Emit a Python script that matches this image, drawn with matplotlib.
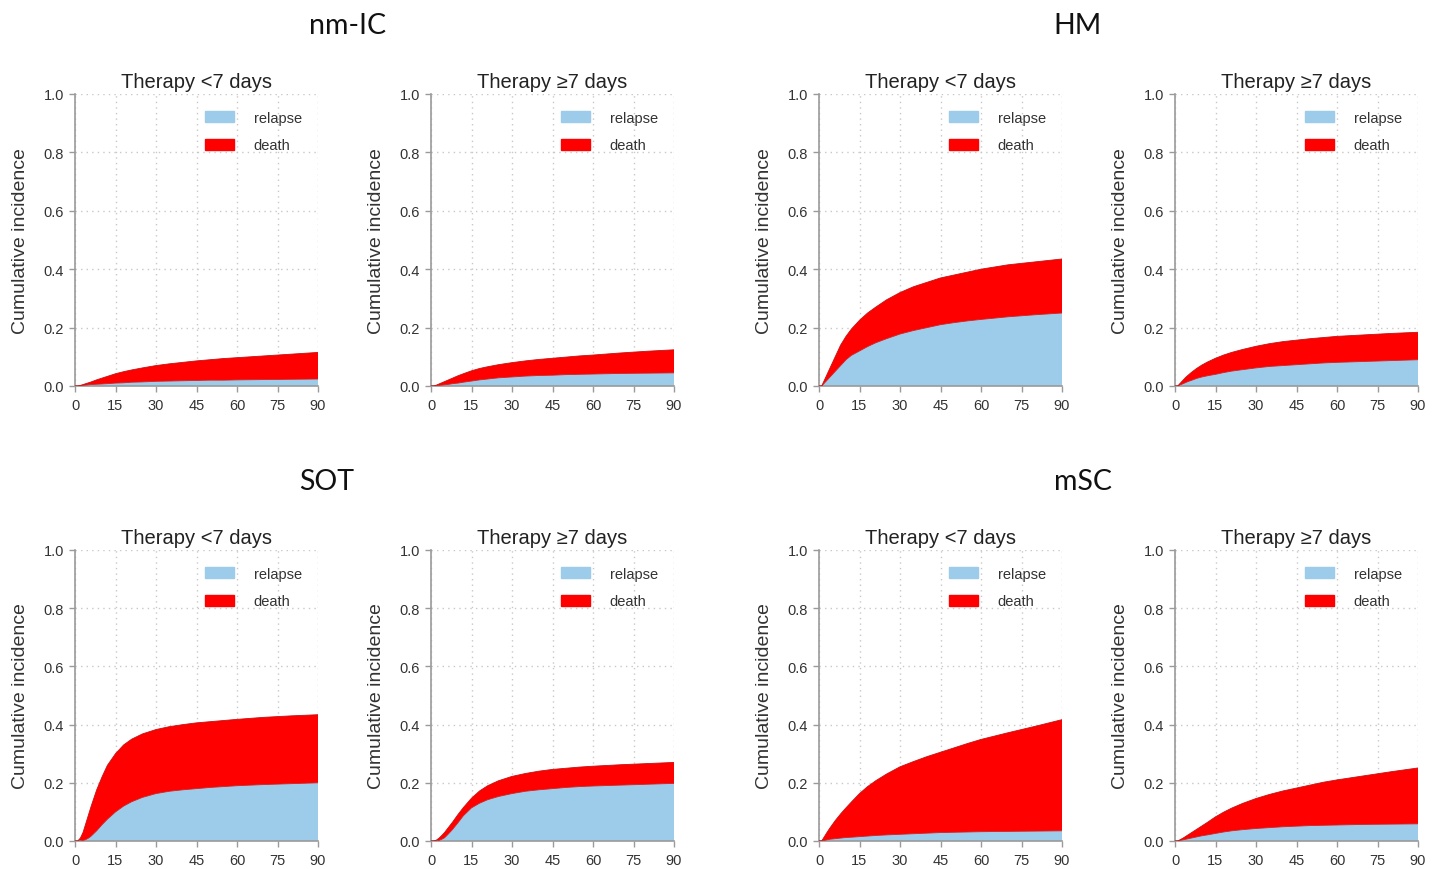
from typing import List

import matplotlib.pyplot as plt
from matplotlib.patches import Patch

plt.rcParams["font.family"] = ["Liberation Sans", "DejaVu Sans"]

# follow-up days (shared by every panel)
days: List[float] = [0, 1, 2, 3, 4, 5, 6, 8, 10, 12, 15, 18, 21, 25, 30, 35, 40, 45, 50, 55, 60, 70, 80, 90]

# cumulative incidence of relapse, and of relapse or death (upper edge of the red band)
# nm-IC
nmic_short_relapse = [0, 0, 0.001, 0.002, 0.003, 0.004, 0.005, 0.006, 0.007, 0.008, 0.010, 0.011, 0.013, 0.014, 0.016, 0.017, 0.018, 0.019, 0.020, 0.020, 0.021, 0.022, 0.023, 0.024]
nmic_short_any = [0, 0, 0.002, 0.005, 0.008, 0.011, 0.014, 0.021, 0.027, 0.033, 0.042, 0.049, 0.055, 0.062, 0.070, 0.076, 0.081, 0.086, 0.090, 0.094, 0.097, 0.103, 0.109, 0.115]
nmic_long_relapse = [0, 0, 0.001, 0.002, 0.003, 0.004, 0.005, 0.008, 0.010, 0.013, 0.017, 0.021, 0.024, 0.028, 0.031, 0.034, 0.036, 0.037, 0.039, 0.040, 0.041, 0.043, 0.044, 0.045]
nmic_long_any = [0, 0, 0.003, 0.007, 0.011, 0.015, 0.019, 0.027, 0.035, 0.042, 0.052, 0.060, 0.066, 0.073, 0.080, 0.086, 0.091, 0.095, 0.099, 0.103, 0.106, 0.113, 0.119, 0.124]

# HM
hm_short_relapse = [0, 0, 0.010, 0.020, 0.030, 0.040, 0.050, 0.070, 0.090, 0.105, 0.120, 0.135, 0.148, 0.162, 0.178, 0.190, 0.200, 0.210, 0.217, 0.223, 0.228, 0.237, 0.244, 0.250]
hm_short_any = [0, 0, 0.020, 0.040, 0.060, 0.080, 0.100, 0.140, 0.170, 0.195, 0.225, 0.250, 0.270, 0.295, 0.320, 0.340, 0.355, 0.370, 0.380, 0.390, 0.400, 0.415, 0.425, 0.435]
hm_long_relapse = [0, 0, 0.004, 0.008, 0.012, 0.016, 0.019, 0.026, 0.031, 0.035, 0.040, 0.046, 0.051, 0.056, 0.062, 0.067, 0.070, 0.073, 0.076, 0.079, 0.081, 0.084, 0.087, 0.090]
hm_long_any = [0, 0, 0.010, 0.020, 0.030, 0.038, 0.046, 0.060, 0.072, 0.082, 0.095, 0.106, 0.115, 0.125, 0.136, 0.145, 0.152, 0.157, 0.162, 0.166, 0.170, 0.175, 0.180, 0.184]

# SOT
sot_short_relapse = [0, 0, 0, 0.002, 0.005, 0.010, 0.017, 0.035, 0.056, 0.075, 0.100, 0.120, 0.135, 0.150, 0.163, 0.171, 0.176, 0.180, 0.184, 0.187, 0.190, 0.194, 0.197, 0.200]
sot_short_any = [0, 0, 0.010, 0.030, 0.060, 0.090, 0.120, 0.175, 0.220, 0.260, 0.300, 0.330, 0.350, 0.368, 0.383, 0.393, 0.400, 0.406, 0.410, 0.414, 0.418, 0.425, 0.430, 0.434]
sot_long_relapse = [0, 0, 0, 0.002, 0.006, 0.011, 0.020, 0.040, 0.063, 0.087, 0.114, 0.130, 0.142, 0.153, 0.163, 0.171, 0.176, 0.180, 0.184, 0.187, 0.189, 0.192, 0.195, 0.198]
sot_long_any = [0, 0, 0.003, 0.010, 0.019, 0.029, 0.041, 0.065, 0.091, 0.115, 0.147, 0.172, 0.190, 0.207, 0.222, 0.232, 0.240, 0.246, 0.250, 0.254, 0.257, 0.262, 0.266, 0.270]

# mSC
msc_short_relapse = [0, 0, 0.002, 0.004, 0.006, 0.007, 0.008, 0.010, 0.012, 0.013, 0.015, 0.017, 0.019, 0.021, 0.023, 0.025, 0.027, 0.029, 0.030, 0.031, 0.032, 0.033, 0.034, 0.035]
msc_short_any = [0, 0, 0.015, 0.030, 0.044, 0.057, 0.070, 0.093, 0.114, 0.134, 0.163, 0.187, 0.207, 0.230, 0.255, 0.273, 0.290, 0.305, 0.320, 0.335, 0.349, 0.372, 0.394, 0.417]
msc_long_relapse = [0, 0, 0.002, 0.004, 0.006, 0.008, 0.010, 0.014, 0.018, 0.021, 0.026, 0.031, 0.035, 0.039, 0.043, 0.046, 0.049, 0.051, 0.053, 0.054, 0.055, 0.057, 0.058, 0.059]
msc_long_any = [0, 0, 0.005, 0.010, 0.016, 0.022, 0.028, 0.040, 0.052, 0.064, 0.083, 0.099, 0.113, 0.129, 0.146, 0.160, 0.172, 0.182, 0.192, 0.202, 0.210, 0.224, 0.238, 0.251]

groups = ["nm-IC", "HM", "SOT", "mSC"]
panel_titles = ["Therapy <7 days", "Therapy \u22657 days"]
x_ticks = [0, 15, 30, 45, 60, 75, 90]
y_ticks = [0.0, 0.2, 0.4, 0.6, 0.8, 1.0]

RELAPSE_COLOR = "#9dcbea"
DEATH_COLOR = "#ff0000"
W, H = 1438, 870


def cif_panel(ax, title: str, relapse: List[float], any_event: List[float]) -> None:
    ax.fill_between(days, 0, relapse, facecolor=RELAPSE_COLOR, edgecolor="none", zorder=2)
    ax.fill_between(days, relapse, any_event, facecolor=DEATH_COLOR, edgecolor="none", zorder=2)
    ax.plot(days, relapse, color="#d02020", linewidth=0.6, zorder=3)
    ax.plot(days, any_event, color="#c81010", linewidth=0.6, zorder=3)

    ax.set_xlim(0, 90)
    ax.set_ylim(0, 1)
    ax.set_xticks(x_ticks)
    ax.set_yticks(y_ticks)
    ax.set_yticklabels([f"{v:.1f}" for v in y_ticks])
    ax.grid(True, linestyle=(0, (1, 3)), color="#c8c8c8", linewidth=1.0, zorder=0)
    ax.set_axisbelow(True)

    for s in ["top", "right"]:
        ax.spines[s].set_visible(False)
    for s in ["left", "bottom"]:
        ax.spines[s].set_color("#9a9a9a")
        ax.spines[s].set_linewidth(1.2)
    ax.tick_params(colors="#9a9a9a", length=4, width=1.0, labelcolor="#333333", labelsize=10.5)
    ax.tick_params(axis="y", pad=4)
    ax.tick_params(axis="x", pad=5)

    ax.set_title(title, fontsize=14.5, color="#222222", pad=5)
    ax.set_ylabel("Cumulative incidence", fontsize=14, color="#333333")
    ax.yaxis.set_label_coords(-0.19, 0.5)

    handles = [Patch(facecolor=RELAPSE_COLOR, edgecolor=RELAPSE_COLOR, label="relapse"),
               Patch(facecolor=DEATH_COLOR, edgecolor=DEATH_COLOR, label="death")]
    leg = ax.legend(handles=handles, loc="upper left", bbox_to_anchor=(0.51, 0.963),
                    frameon=False, fontsize=10.5, handlelength=2.0, handleheight=0.85,
                    handletextpad=1.35, labelspacing=0.95, borderaxespad=0)
    for t in leg.get_texts():
        t.set_color("#333333")


fig = plt.figure(figsize=(W / 100, H / 100), dpi=100)

panel_lefts = [75, 431, 819, 1175]
rows = [(387, 95), (842, 551)]
data = [
    [(nmic_short_relapse, nmic_short_any), (nmic_long_relapse, nmic_long_any),
     (hm_short_relapse, hm_short_any), (hm_long_relapse, hm_long_any)],
    [(sot_short_relapse, sot_short_any), (sot_long_relapse, sot_long_any),
     (msc_short_relapse, msc_short_any), (msc_long_relapse, msc_long_any)],
]

for r, (y0, y1) in enumerate(rows):
    for c, left in enumerate(panel_lefts):
        ax = fig.add_axes([left / W, 1 - y0 / H, 243 / W, (y0 - y1) / H])
        rel, tot = data[r][c]
        cif_panel(ax, panel_titles[c % 2], rel, tot)

group_pos = [(348, 26), (1077, 26), (327, 482), (1083, 482)]
for name, (gx, gy) in zip(groups, group_pos):
    fig.text(gx / W, 1 - gy / H, name, ha="center", va="center",
             fontsize=20.5, family=["Lato", "DejaVu Sans"], color="#111111")

plt.savefig("out.png", dpi=100)
plt.close()
